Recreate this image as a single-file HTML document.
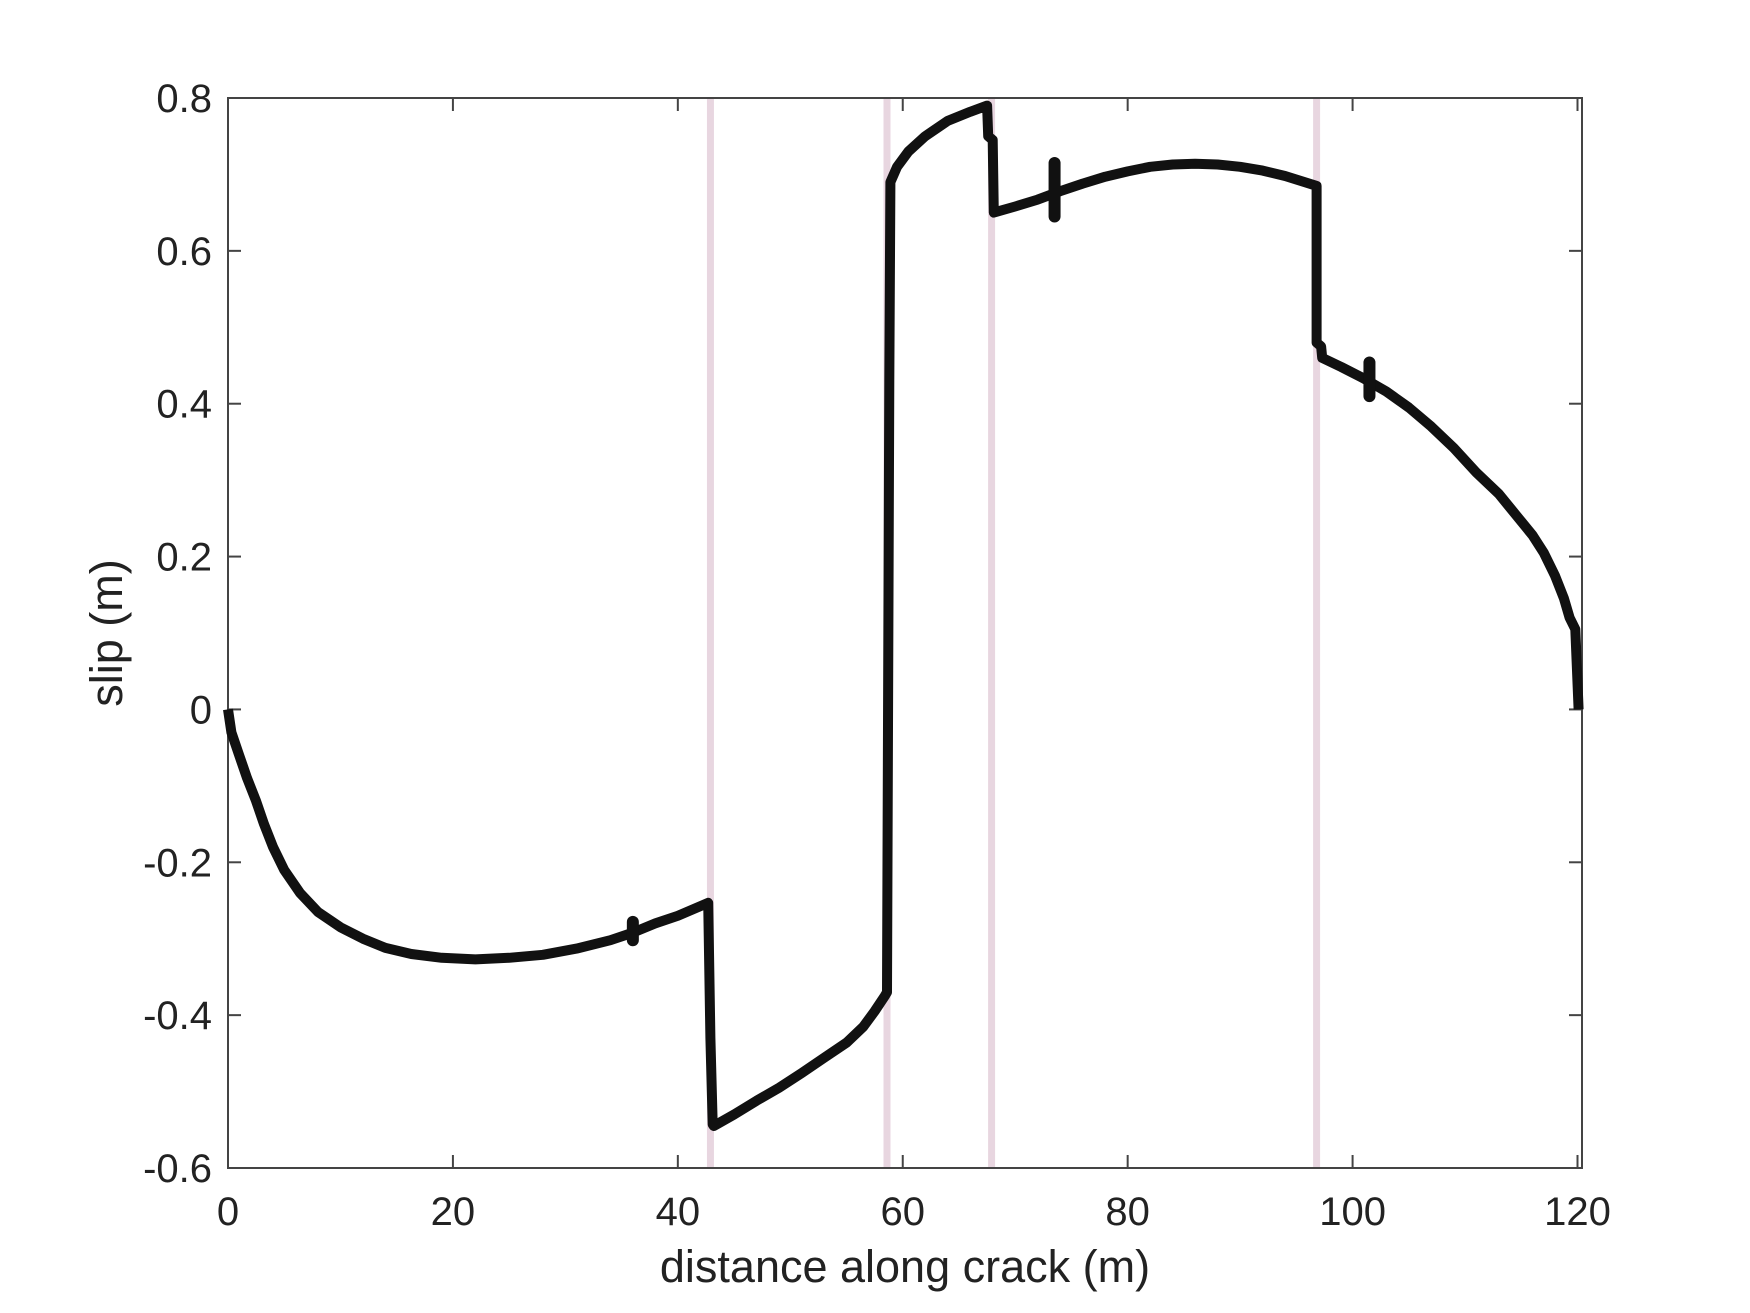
<!DOCTYPE html>
<html><head><meta charset="utf-8"><style>
html,body{margin:0;padding:0;background:#fff;}
svg{display:block;font-family:"Liberation Sans",sans-serif;}
</style></head><body>
<svg id="chart" width="1750" height="1313" viewBox="0 0 1750 1313"></svg>
<script>
const xTicks=[0,20,40,60,80,100,120];
const yTicks=[-0.6,-0.4,-0.2,0,0.2,0.4,0.6,0.8];
const yTickLabels=["-0.6","-0.4","-0.2","0","0.2","0.4","0.6","0.8"];
const markerLines=[42.9,58.6,67.9,96.8];
const slipX=[0,0.3,1,1.7,2.5,3.2,4,5,6.4,8,10,12,14,16.3,19,22,25,28,31,34,36,38,40,42.7,42.9,43.1,43.2,45,47,49,51,53,55,56.5,57.5,58.4,58.6,58.8,58.9,59.5,60.5,62,64,66,67.5,67.6,68,68.1,70,72,74,76,78,80,82,84,86,88,90,92,94,96.8,96.8,97.2,97.3,99,101,103,105,107,109,111,113,114.5,116,117,118,118.8,119.3,119.8,120.1];
const slipY=[0,-0.03,-0.06,-0.09,-0.12,-0.15,-0.18,-0.21,-0.24,-0.265,-0.285,-0.3,-0.312,-0.32,-0.325,-0.327,-0.325,-0.321,-0.313,-0.302,-0.292,-0.28,-0.27,-0.253,-0.43,-0.543,-0.545,-0.53,-0.512,-0.495,-0.476,-0.456,-0.436,-0.415,-0.395,-0.375,-0.37,0.43,0.69,0.71,0.73,0.75,0.77,0.782,0.79,0.75,0.745,0.65,0.658,0.667,0.678,0.688,0.697,0.704,0.71,0.713,0.714,0.713,0.71,0.705,0.698,0.685,0.48,0.475,0.46,0.448,0.433,0.416,0.395,0.37,0.342,0.31,0.282,0.255,0.228,0.205,0.175,0.145,0.12,0.105,0];
const blipX=[36,73.5,101.5];
const blipY=[-0.29,0.68,0.432];
const blipH=[0.012,0.035,0.022];
const L=228,R=1582,T=98,B=1168,XMAX=120.4,YMIN=-0.6,YMAX=0.8;
const sx=v=>L+(v/XMAX)*(R-L);
const sy=v=>B-(v-YMIN)/(YMAX-YMIN)*(B-T);
const svg=document.getElementById('chart');
const NS='http://www.w3.org/2000/svg';
function mk(t,a){const e=document.createElementNS(NS,t);for(const k in a)e.setAttribute(k,a[k]);svg.appendChild(e);return e;}
markerLines.forEach(v=>{
  const e=mk('line',{x1:sx(v),x2:sx(v),y1:T,y2:B,stroke:'#e8d6e0','stroke-width':7});
  
  
});
const box=mk('rect',{x:L,y:T,width:R-L,height:B-T,fill:'none',stroke:'#444','stroke-width':2});


xTicks.forEach(v=>{
  const x=sx(v);
  mk('line',{x1:x,x2:x,y1:B,y2:B-13,stroke:'#444','stroke-width':2});
  mk('line',{x1:x,x2:x,y1:T,y2:T+13,stroke:'#444','stroke-width':2});
  const t=mk('text',{x:x,y:B+57,'text-anchor':'middle','font-size':40,fill:'#222'});
  t.textContent=v;
  
  
});
yTicks.forEach((v,i)=>{
  const y=sy(v);
  mk('line',{x1:L,x2:L+13,y1:y,y2:y,stroke:'#444','stroke-width':2});
  mk('line',{x1:R,x2:R-13,y1:y,y2:y,stroke:'#444','stroke-width':2});
  const t=mk('text',{x:L-16,y:y+14,'text-anchor':'end','font-size':40,fill:'#222'});
  t.textContent=yTickLabels[i];
  
  
});
let d='';
slipX.forEach((v,i)=>{d+=(i?'L':'M')+sx(v).toFixed(1)+' '+sy(slipY[i]).toFixed(1);});
const p=mk('path',{d:d,fill:'none',stroke:'#111','stroke-width':10,'stroke-linejoin':'round'});


blipX.forEach((v,i)=>{
  const e=mk('line',{x1:sx(v),x2:sx(v),y1:sy(blipY[i]+blipH[i]),y2:sy(blipY[i]-blipH[i]),stroke:'#111','stroke-width':12,'stroke-linecap':'round'});
  
  
});
const xl=mk('text',{x:(L+R)/2,y:1282,'text-anchor':'middle','font-size':45,fill:'#222'});
xl.textContent='distance along crack (m)';


const yl=mk('text',{x:0,y:0,'text-anchor':'middle','font-size':45,fill:'#222',transform:'translate(122 '+((T+B)/2)+') rotate(-90)'});
yl.textContent='slip (m)';


</script>
</body></html>
